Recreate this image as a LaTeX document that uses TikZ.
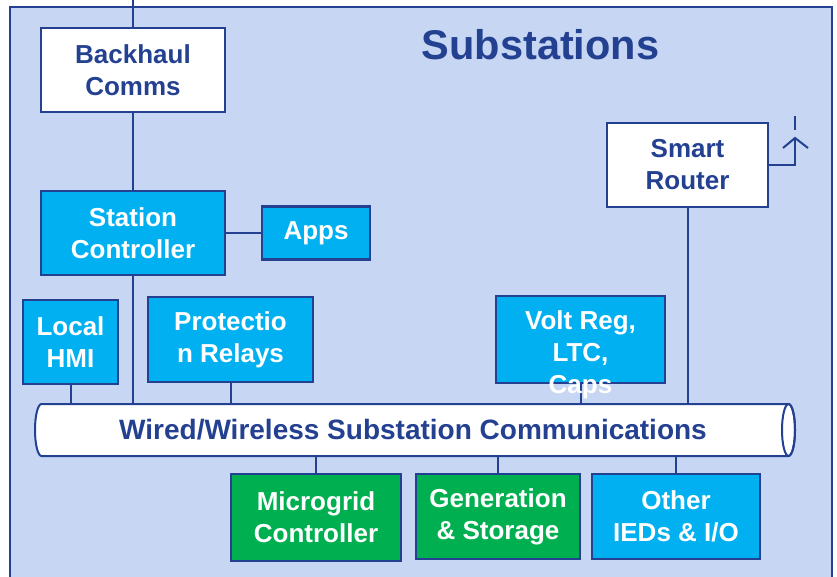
\documentclass[tikz,border=0pt]{standalone}
\usepackage{fontspec}
\setmainfont{Liberation Sans}
\definecolor{navy}{RGB}{35,64,145}
\definecolor{paleblue}{RGB}{198,214,243}
\definecolor{skyblue}{RGB}{0,176,240}
\definecolor{leafgreen}{RGB}{0,176,80}

\begin{document}
\begin{tikzpicture}[x=1pt,y=-1pt,
    box/.style={draw=navy,line width=2.5pt,align=center,inner sep=0pt,
      font=\bfseries\fontsize{26}{32}\selectfont},
    whitebox/.style={box,fill=white,text=navy},
    cyanbox/.style={box,fill=skyblue,text=white},
    greenbox/.style={box,fill=leafgreen,text=white},
    link/.style={draw=navy,line width=2pt}]
    \useasboundingbox (0,0) rectangle (837,577);
    \draw[fill=paleblue,draw=navy,line width=2pt] (10,7) rectangle (832,590);
    \node[font=\bfseries\fontsize{41.5}{48}\selectfont,text=navy,anchor=base] (title) at (540.5,60) {Substations};
    % top row
    \node[whitebox,minimum width=184,minimum height=84] (backhaul) at (133,70) {Backhaul\\Comms};
    \node[cyanbox,minimum width=184,minimum height=84] (station) at (133,233) {Station\\Controller};
    \node[cyanbox,minimum width=108,minimum height=53] (apps) at (316,233) {Apps};
    \node[whitebox,minimum width=161,minimum height=84] (router) at (687.5,165) {Smart\\Router};
    % middle row
    \node[cyanbox,minimum width=95,minimum height=84] (hmi) at (70.5,342) {Local\\HMI};
    \node[cyanbox,minimum width=165,minimum height=85] (relays) at (230.5,339.5) {Protectio\\n Relays};
    \node[cyanbox,minimum width=169,minimum height=87] (volt) at (580.5,339.5) {};
    % bus
    \draw[fill=white,draw=navy,line width=2pt] (41.5,404) -- (788.5,404)
      arc[start angle=-90,end angle=90,x radius=6.5,y radius=26] -- (41.5,456)
      arc[start angle=90,end angle=270,x radius=6.5,y radius=26] -- cycle;
    \draw[navy,line width=2pt] (788.5,430) ellipse[x radius=6.5,y radius=26];
    \node[text=navy,font=\bfseries\fontsize{28}{32}\selectfont,minimum width=760,minimum height=52,inner sep=0pt] (bus) at (413,430) {Wired/Wireless Substation Communications};
    % bottom row
    \node[greenbox,minimum width=170,minimum height=87] (micro) at (316,517.5) {Microgrid\\Controller};
    \node[greenbox,minimum width=164,minimum height=85] (gen) at (498,516.5) {Generation\\\& Storage};
    \node[cyanbox,minimum width=168,minimum height=85] (other) at (676,516.5) {Other\\IEDs \& I/O};
    % links
    \coordinate (uplink) at (133,0);
    \draw[link] (uplink) -- (backhaul.north);
    \draw[link] (backhaul.south) -- (station.north);
    \draw[link] (station.east) -- (apps.west);
    \draw[link] (station.south) -- (station.south |- bus.north);
    \draw[link] (hmi.south) -- (hmi.south |- bus.north);
    \draw[link] (relays.south) -- (relays.south |- bus.north);
    \draw[link] (volt.south) -- (volt.south |- bus.north);
    \draw[link] (router.south) -- (router.south |- bus.north);
    \draw[link] (micro.north |- bus.south) -- (micro.north);
    \draw[link] (gen.north |- bus.south) -- (gen.north);
    \draw[link] (other.north |- bus.south) -- (other.north);
    % antenna
    \coordinate (mast) at (795,138);
    \draw[link] (router.east) -| (mast);
    \draw[link] (783,148) -- (mast) -- (808,148);
    \draw[link] (795,116) -- (795,130);
    \node[text=white,align=center,inner sep=0pt,anchor=north,
      font=\bfseries\fontsize{26}{32}\selectfont] (voltlabel) at ([yshift=-16pt]volt.north) {Volt Reg,\\LTC,\\Caps};
\end{tikzpicture}
\end{document}
